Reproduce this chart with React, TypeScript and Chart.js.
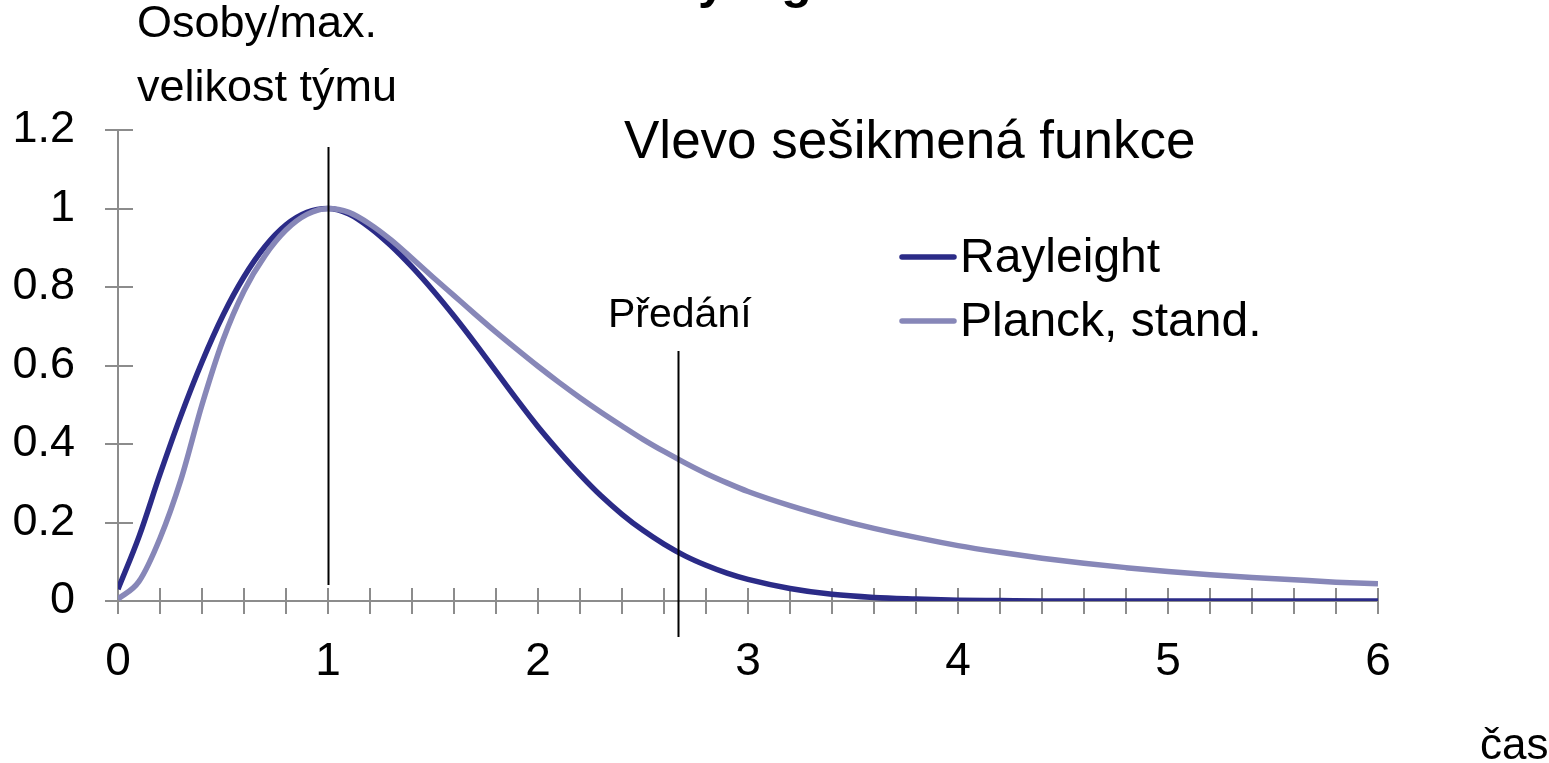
import React, { useEffect, useRef } from "react";
import { Chart, registerables } from "chart.js";

Chart.register(...registerables);

// time values (x)
const tValues = [
  0, 0.1, 0.2, 0.3, 0.4, 0.5, 0.6, 0.7, 0.8, 0.9, 1.0, 1.1, 1.2, 1.3, 1.4, 1.5,
  1.6, 1.7, 1.8, 1.9, 2.0, 2.1, 2.2, 2.3, 2.4, 2.5, 2.6, 2.7, 2.8, 2.9, 3.0,
  3.2, 3.4, 3.6, 3.8, 4.0, 4.2, 4.4, 4.6, 4.8, 5.0, 5.2, 5.4, 5.6, 5.8, 6.0,
];

const rayleighValues = [
  0.03, 0.164, 0.323, 0.473, 0.609, 0.728, 0.826, 0.903, 0.958, 0.99, 1.0,
  0.986, 0.951, 0.905, 0.851, 0.791, 0.726, 0.657, 0.585, 0.513, 0.444, 0.381,
  0.322, 0.268, 0.221, 0.18, 0.145, 0.115, 0.091, 0.071, 0.055, 0.032, 0.017,
  0.009, 0.005, 0.002, 0.001, 0, 0, 0, 0, 0, 0, 0, 0, 0,
];

const planckValues = [
  0.005, 0.05, 0.16, 0.31, 0.5, 0.665, 0.79, 0.88, 0.945, 0.985, 1.0, 0.99,
  0.96, 0.92, 0.873, 0.825, 0.778, 0.731, 0.685, 0.641, 0.598, 0.557, 0.518,
  0.481, 0.446, 0.412, 0.381, 0.352, 0.325, 0.301, 0.279, 0.243, 0.212, 0.185,
  0.162, 0.141, 0.124, 0.109, 0.096, 0.085, 0.075, 0.067, 0.06, 0.054, 0.048,
  0.044,
];

const seriesNames = ["Rayleight", "Planck, stand."];

const xTickLabels = ["0", "1", "2", "3", "4", "5", "6"];
const yTickLabels = ["0", "0.2", "0.4", "0.6", "0.8", "1", "1.2"];

// vertical marker lines: x position, top and bottom value
const markerX = [1, 2.667];
const markerTop = [1.157, 0.637];
const markerBottom = [0.041, -0.092];

const DARK = "#2B2B87";
const LIGHT = "#8787B8";
const AXIS = "#8C8C8C";
const FONT = "'Liberation Sans', Arial, sans-serif";

const App: React.FC = () => {
  const canvasRef = useRef<HTMLCanvasElement | null>(null);

  useEffect(() => {
    if (!canvasRef.current) return;

    const overlay = {
      id: "overlay",
      beforeDatasetsDraw(chart: any) {
        const ctx = chart.ctx;
        const xs = chart.scales.x;
        const ys = chart.scales.y;
        const left = chart.chartArea.left;
        const right = chart.chartArea.right;
        const top = chart.chartArea.top;
        const bottom = chart.chartArea.bottom;
        ctx.save();
        ctx.strokeStyle = AXIS;
        ctx.lineWidth = 2;
        ctx.beginPath();
        ctx.moveTo(left, top);
        ctx.lineTo(left, bottom);
        ctx.moveTo(left, bottom);
        ctx.lineTo(right, bottom);
        ys.ticks.forEach((t: any) => {
          const y = Math.round(ys.getPixelForValue(t.value));
          ctx.moveTo(left - 13, y);
          ctx.lineTo(left + 15, y);
        });
        xs.ticks.forEach((t: any) => {
          const x = Math.round(xs.getPixelForValue(t.value));
          ctx.moveTo(x, bottom - 13);
          ctx.lineTo(x, bottom + 13);
        });
        ctx.stroke();
        ctx.restore();
      },
      afterDatasetsDraw(chart: any) {
        const ctx = chart.ctx;
        const xs = chart.scales.x;
        const ys = chart.scales.y;
        ctx.save();
        // marker lines
        ctx.strokeStyle = "#000000";
        ctx.lineWidth = 2;
        markerX.forEach((mx, i) => {
          const px = Math.round(xs.getPixelForValue(mx)) + 0.5;
          ctx.beginPath();
          ctx.moveTo(px, ys.getPixelForValue(markerTop[i]));
          ctx.lineTo(px, ys.getPixelForValue(markerBottom[i]));
          ctx.stroke();
        });

        ctx.fillStyle = "#000000";
        ctx.textBaseline = "alphabetic";
        ctx.textAlign = "left";

        // cut-off title at the very top
        ctx.font = `bold 50px ${FONT}`;
        ctx.fillText("Rayleigh", 634, -2);

        // axis title
        ctx.font = `45px ${FONT}`;
        ctx.fillText("Osoby/max.", 137, 37);
        ctx.fillText("velikost týmu", 137, 101);

        // chart subtitle
        ctx.font = `53px ${FONT}`;
        ctx.fillText("Vlevo sešikmená funkce", 624, 158);

        // marker label
        ctx.font = `41px ${FONT}`;
        ctx.fillText("Předání", 608, 327);

        // x axis title
        ctx.font = `44px ${FONT}`;
        ctx.fillText("čas", 1480, 759);

        // legend
        const legendColors = [DARK, LIGHT];
        const legendY = [257, 321];
        ctx.lineCap = "round";
        ctx.lineWidth = 5.5;
        seriesNames.forEach((name, i) => {
          ctx.strokeStyle = legendColors[i];
          ctx.beginPath();
          ctx.moveTo(902, legendY[i]);
          ctx.lineTo(954, legendY[i]);
          ctx.stroke();
          ctx.fillStyle = "#000000";
          ctx.font = `48px ${FONT}`;
          ctx.textBaseline = "middle";
          ctx.fillText(name, 960, legendY[i] + 2);
        });
        ctx.restore();
      },
    };

    const chart = new Chart(canvasRef.current, {
      type: "scatter",
      data: {
        datasets: [
          {
            label: seriesNames[1],
            data: tValues.map((t, i) => ({ x: t, y: planckValues[i] })),
            borderColor: LIGHT,
            backgroundColor: LIGHT,
            borderWidth: 5.5,
            showLine: true,
            pointRadius: 0,
            cubicInterpolationMode: "monotone",
            fill: false,
          },
          {
            label: seriesNames[0],
            data: tValues.map((t, i) => ({ x: t, y: rayleighValues[i] })),
            borderColor: DARK,
            backgroundColor: DARK,
            borderWidth: 5.5,
            showLine: true,
            pointRadius: 0,
            cubicInterpolationMode: "monotone",
            fill: false,
          },
        ],
      },
      options: {
        animation: false,
        responsive: false,
        maintainAspectRatio: false,
        layout: { padding: { left: 0, top: 130, right: 171, bottom: 0 } },
        plugins: {
          legend: { display: false },
          tooltip: { enabled: false },
          title: { display: false },
        },
        scales: {
          x: {
            type: "linear",
            min: 0,
            max: 6,
            grid: { display: false, drawTicks: false },
            border: { display: false },
            ticks: {
              stepSize: 0.2,
              autoSkip: false,
              maxRotation: 0,
              padding: 34,
              color: "#000000",
              font: { family: FONT, size: 46 },
              callback: (v: any) => {
                const n = Number(v);
                const r = Math.round(n);
                return Math.abs(n - r) < 1e-6 ? xTickLabels[r] : "";
              },
            },
            afterFit: (scale: any) => {
              scale.height = 162;
            },
          },
          y: {
            min: 0,
            max: 1.2,
            grid: { display: false, drawTicks: false },
            border: { display: false },
            ticks: {
              stepSize: 0.2,
              autoSkip: false,
              padding: 43,
              color: "#000000",
              font: { family: FONT, size: 45 },
              callback: (v: any) => yTickLabels[Math.round(Number(v) / 0.2)],
            },
            afterFit: (scale: any) => {
              scale.width = 118;
            },
          },
        },
      },
      plugins: [overlay],
    } as any);

    return () => chart.destroy();
  }, []);

  return (
    <div
      style={{
        position: "fixed",
        left: 0,
        top: 0,
        width: 1549,
        height: 763,
        background: "#ffffff",
      }}
    >
      <canvas ref={canvasRef} width={1549} height={763} style={{ width: 1549, height: 763 }} />
    </div>
  );
};

export default App;
